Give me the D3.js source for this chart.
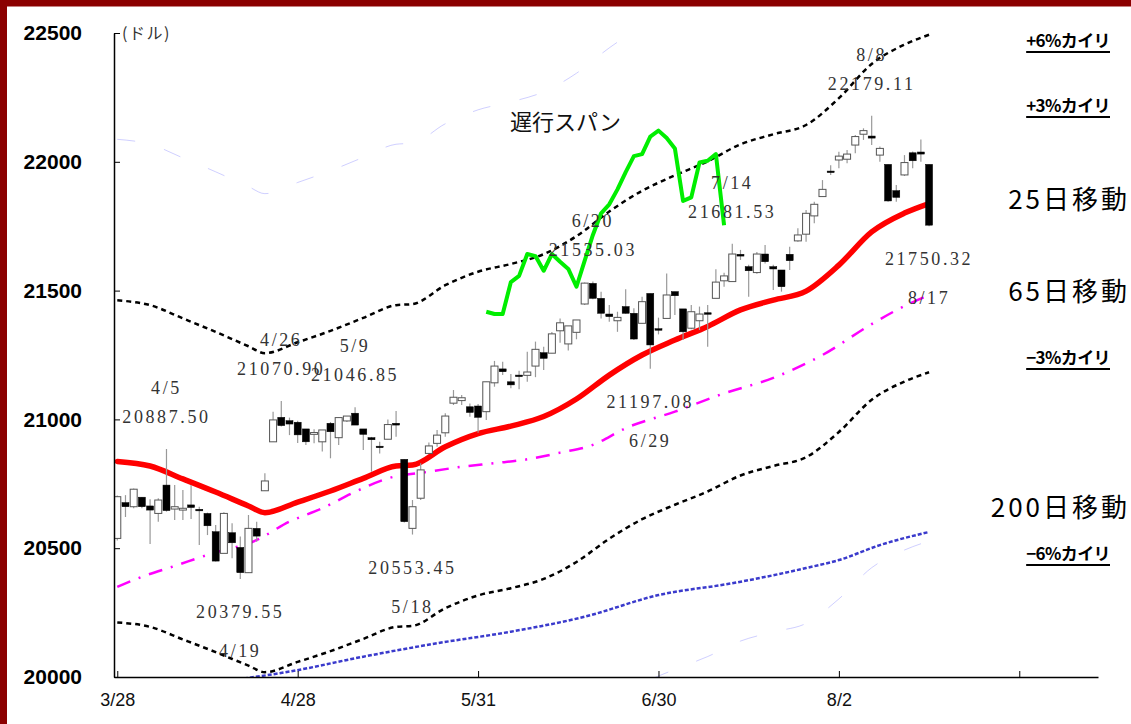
<!DOCTYPE html>
<html>
<head>
<meta charset="utf-8">
<script src="https://cdn.jsdelivr.net/npm/d3@7"></script>
<style>
  body { margin: 0; background: #fff; }
  svg { display: block; }
</style>
</head>
<body>
<div id="chart"></div>
<script>
// daily candles 3/28 .. 8/17 (index = trading day)
var opens = [20538,20677,20661,20698,20664,20635,20745,20652,20648,20668,20651,20635,20564,20480,20560,20503,20405,20577,20723,20913,
  21008,20995,20989,20963,20942,20913,20985,20929,20994,21024,20963,20929,20896,20923,20985,20845,20577,20694,20868,20907,
  20948,21063,21073,21049,21052,21030,21142,21196,21146,21172,21171,21207,21259,21257,21344,21293,21338,21448,21528,21470,
  21409,21383,21438,21412,21373,21489,21352,21392,21496,21429,21354,21383,21414,21470,21538,21535,21641,21593,21570,21642,
  21593,21580,21641,21693,21719,21790,21865,21964,22007,22010,22065,22107,22100,22026,21990,21888,21949,22035,22038,21990];
var highs = [20705,20706,20732,20699,20690,20694,20885,20745,20726,20745,20661,20638,20590,20640,20597,20545,20629,20603,20791,21030,
  21071,21007,20995,20963,20962,20959,20990,21007,21013,21047,20963,20932,20913,21000,21033,20845,20687,20830,20910,20959,
  21024,21114,21095,21062,21060,21146,21227,21224,21176,21189,21263,21302,21282,21339,21392,21363,21386,21531,21535,21496,
  21444,21418,21505,21431,21476,21489,21395,21566,21496,21429,21444,21438,21444,21583,21569,21682,21658,21600,21650,21677,
  21600,21580,21670,21742,21813,21845,21929,21987,22039,22046,22104,22130,22179,22059,21990,21910,22026,22040,22087,21990];
var lows = [20530,20621,20655,20655,20516,20603,20642,20609,20609,20613,20512,20551,20448,20480,20461,20380,20405,20525,20723,20913,
  20972,20939,20908,20901,20907,20875,20849,20901,20990,20978,20881,20797,20868,20923,20933,20600,20553,20687,20866,20894,
  20933,21056,21056,21010,20948,20998,21127,21172,21121,21117,21146,21164,21192,21257,21298,21267,21311,21444,21466,21392,
  21379,21340,21410,21308,21373,21197,21330,21392,21405,21308,21350,21347,21282,21470,21515,21535,21619,21476,21565,21605,
  21502,21496,21580,21690,21690,21761,21865,21949,21975,21994,22033,22085,22065,22000,21845,21845,21945,21975,22000,21750];
var closes = [20700,20661,20729,20661,20648,20687,20646,20661,20655,20658,20645,20587,20450,20635,20521,20405,20577,20547,20761,20998,
  20976,20982,20940,20913,20949,20959,20952,21007,21013,20978,20942,20921,20892,20980,20978,20603,20661,20804,20897,20939,
  21013,21086,21084,21027,21008,21146,21207,21185,21134,21167,21184,21272,21237,21332,21375,21363,21386,21529,21470,21412,
  21399,21396,21412,21312,21457,21289,21350,21483,21480,21340,21418,21409,21409,21533,21557,21642,21634,21577,21642,21612,
  21584,21515,21616,21716,21800,21835,21893,21960,22022,22030,22098,22121,22092,22052,21848,21862,21997,22004,22030,21754];

// moving averages (day index, value)
var ma25Idx = [0,4,8,12,16,18,22,26,30,34,36,40,44,48,52,56,60,64,68,72,76,80,84,88,92,96,99];
var ma25Val = [20837,20819,20769,20718,20664,20638,20679,20722,20771,20819,20823,20894,20945,20974,21011,21079,21172,21250,21308,21361,21425,21463,21498,21599,21728,21801,21838];
var ma65Idx = [0,3,7,11,17,21,25,29,33,38,42,46,50,54,58,62,68,74,80,86,92,96,99];
var ma65Val = [20350,20389,20431,20474,20532,20603,20655,20719,20771,20797,20816,20830,20845,20871,20901,20966,21030,21101,21161,21250,21370,21440,21483];
var ma200Idx = [14,21,30,39,48,57,66,75,84,88,93,99];
var ma200Val = [19988,20021,20079,20131,20176,20234,20318,20364,20423,20454,20512,20563];

var lagShift = 25, lagStart = 45;

var yTicks = [20000,20500,21000,21500,22000,22500];
var xTickIdx = [0,22,44,66,88,110];
var xTickLabels = ["3/28","4/28","5/31","6/30","8/2",""];

var highMarks = [6,20,29,58,75,92];
var highDates = ["4/5","4/26","5/9","6/20","7/14","8/8"];
var highTexts = ["20887.50","21070.90","21046.85","21535.03","21681.53","22179.11"];
var lowMarks = [15,36,65,99];
var lowDates = ["4/19","5/18","6/29","8/17"];
var lowTexts = ["20379.55","20553.45","21197.08","21750.32"];

var sideLabels = ["+6%カイリ","+3%カイリ","25日移動","65日移動","−3%カイリ","200日移動","−6%カイリ"];

var W = 1131, H = 724;
var pL = 114, pR = 1098, pT = 33, pB = 677;

var svg = d3.select("#chart").append("svg")
    .attr("width", W)
    .attr("height", H);

svg.append("rect").attr("width", W).attr("height", H).attr("fill", "#fff");
svg.append("rect")
    .attr("x", 3.5).attr("y", 3).attr("width", W + 40).attr("height", H + 40)
    .attr("fill", "none").attr("stroke", "#8b0000").attr("stroke-width", 7);

var x = d3.scaleLinear().domain([-0.4, 119.6]).range([pL, pR]);
var y = d3.scaleLinear().domain([20000, 22500]).range([pB, pT]);

svg.append("clipPath").attr("id", "plotclip")
    .append("rect").attr("x", pL).attr("y", pT).attr("width", pR - pL).attr("height", pB - pT);

var plot = svg.append("g").attr("clip-path", "url(#plotclip)");

function pts(idx, val) {
    return idx.map(function(d, i) { return [d, val[i]]; });
}
var line = d3.line()
    .x(function(d) { return x(d[0]); })
    .y(function(d) { return y(d[1]); })
    .curve(d3.curveMonotoneX);

var ma25 = pts(ma25Idx, ma25Val);
function band(k) {
    return ma25.map(function(d) { return [d[0], d[1] * k]; });
}

// +-6% bands (faint)
[1.06, 0.94].forEach(function(k) {
    plot.append("path")
        .attr("d", line(band(k)))
        .attr("fill", "none")
        .attr("stroke", "#9a9aff")
        .attr("stroke-opacity", 0.6)
        .attr("stroke-width", 0.8)
        .attr("stroke-dasharray", "18,30");
});

// 200 day
plot.append("path")
    .attr("d", line(pts(ma200Idx, ma200Val)))
    .attr("fill", "none")
    .attr("stroke", "#3a3acc")
    .attr("stroke-width", 2.5)
    .attr("stroke-dasharray", "4,2");

// +-3% bands
[1.03, 0.97].forEach(function(k) {
    plot.append("path")
        .attr("d", line(band(k)))
        .attr("fill", "none")
        .attr("stroke", "#000")
        .attr("stroke-width", 2.5)
        .attr("stroke-dasharray", "5,4");
});

// 65 day
plot.append("path")
    .attr("d", line(pts(ma65Idx, ma65Val)))
    .attr("fill", "none")
    .attr("stroke", "#ff00ff")
    .attr("stroke-width", 2.5)
    .attr("stroke-dasharray", "14,9,2,9");

// 25 day
plot.append("path")
    .attr("d", line(ma25))
    .attr("fill", "none")
    .attr("stroke", "#ff0000")
    .attr("stroke-width", 5.5)
    .attr("stroke-linecap", "round");

// candles
var candles = plot.selectAll(".candle")
    .data(closes)
    .enter().append("g")
    .attr("class", "candle");

candles.append("line")
    .attr("x1", function(d, i) { return x(i); })
    .attr("x2", function(d, i) { return x(i); })
    .attr("y1", function(d, i) { return y(highs[i]); })
    .attr("y2", function(d, i) { return y(lows[i]); })
    .attr("stroke", "#999")
    .attr("stroke-width", 1.2);

candles.append("rect")
    .attr("x", function(d, i) { return x(i) - 3.5; })
    .attr("width", 7)
    .attr("y", function(d, i) { return y(Math.max(opens[i], d)); })
    .attr("height", function(d, i) { return Math.max(1.5, Math.abs(y(opens[i]) - y(d))); })
    .attr("fill", function(d, i) { return d < opens[i] ? "#000" : "#fff"; })
    .attr("stroke", function(d, i) { return d < opens[i] ? "#000" : "#555"; })
    .attr("stroke-width", function(d, i) { return d < opens[i] ? 0.5 : 1; });

// lagging span (close shifted back)
var lag = [];
for (var i = lagStart; i + lagShift < closes.length; i++) {
    lag.push([i, closes[i + lagShift]]);
}
plot.append("path")
    .attr("d", d3.line().x(function(d) { return x(d[0]); }).y(function(d) { return y(d[1]); })(lag))
    .attr("fill", "none")
    .attr("stroke", "#00ee00")
    .attr("stroke-width", 4)
    .attr("stroke-linejoin", "round");

// axes
var yAxis = svg.append("g")
    .attr("transform", "translate(" + pL + ",0)")
    .call(d3.axisLeft(y).tickValues(yTicks).tickFormat(d3.format("d"))
        .tickSizeInner(-6).tickSizeOuter(0).tickPadding(32));
yAxis.select(".domain").attr("stroke", "#000").attr("stroke-width", 1.5);
yAxis.selectAll("text")
    .attr("font-family", "Liberation Sans, Arial, sans-serif")
    .attr("font-weight", "bold")
    .attr("font-size", 21)
    .attr("letter-spacing", 0)
    .attr("fill", "#000");

var xAxis = svg.append("g")
    .attr("transform", "translate(0," + pB + ")")
    .call(d3.axisBottom(x).tickValues(xTickIdx).tickFormat(function(d, i) { return xTickLabels[i]; })
        .tickSizeInner(-6).tickSizeOuter(0).tickPadding(16));
xAxis.select(".domain").attr("stroke", "#000").attr("stroke-width", 1.5);
xAxis.selectAll("text")
    .attr("font-family", "Liberation Sans, Arial, sans-serif")
    .attr("font-size", 18)
    .attr("fill", "#111");

svg.append("text")
    .attr("x", 122).attr("y", 39)
    .attr("font-family", "Noto Sans CJK JP, sans-serif")
    .attr("font-size", 16)
    .attr("letter-spacing", 1.5)
    .attr("fill", "#333")
    .text("(ドル)");

// annotations for highs / lows
var annot = svg.append("g")
    .attr("font-family", "Liberation Serif, DejaVu Serif, serif")
    .attr("font-size", 18)
    .attr("letter-spacing", 2.6)
    .attr("fill", "#333")
    .attr("text-anchor", "middle");

highMarks.forEach(function(k, j) {
    annot.append("text").attr("x", x(k)).attr("y", y(highs[k]) - 26).text(highTexts[j]);
    annot.append("text").attr("x", x(k)).attr("y", y(highs[k]) - 55).text(highDates[j]);
});
lowMarks.forEach(function(k, j) {
    annot.append("text").attr("x", x(k)).attr("y", y(lows[k]) + 39).text(lowTexts[j]);
    annot.append("text").attr("x", x(k)).attr("y", y(lows[k]) + 78).text(lowDates[j]);
});

svg.append("text")
    .attr("x", 510).attr("y", 130)
    .attr("font-family", "Noto Sans CJK JP, sans-serif")
    .attr("font-size", 22)
    .attr("fill", "#111")
    .text("遅行スパン");

// right side labels
var sideY = [41, 106, 200, 292, 358, 508, 554];
var side = svg.append("g");
sideLabels.forEach(function(t, j) {
    var small = t.indexOf("カイリ") >= 0;
    var tx = side.append("text")
        .attr("x", small ? 1110 : 1130)
        .attr("y", sideY[j] + (small ? 6 : 9))
        .attr("text-anchor", "end")
        .attr("font-family", "Noto Sans CJK JP, sans-serif")
        .attr("font-size", small ? 17 : 26)
        .attr("font-weight", small ? "bold" : "normal")
        .attr("letter-spacing", small ? -0.6 : 3)
        .attr("fill", "#000")
        .text(t);
    if (small) {
        var bb = tx.node().getBBox();
        side.append("line")
            .attr("x1", bb.x).attr("x2", bb.x + bb.width)
            .attr("y1", sideY[j] + 11).attr("y2", sideY[j] + 11)
            .attr("stroke", "#000").attr("stroke-width", 2);
    }
});
</script>
</body>
</html>
